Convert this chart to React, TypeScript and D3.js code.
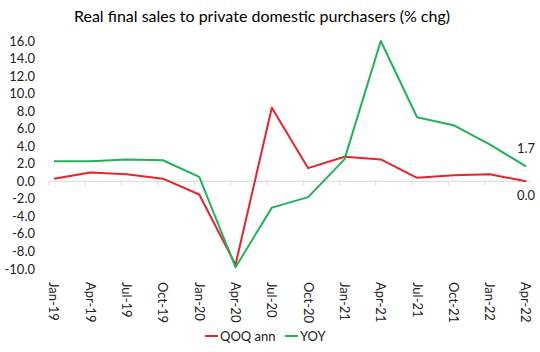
import React from 'react';
import * as d3 from 'd3';

const categories = ['Jan-19', 'Apr-19', 'Jul-19', 'Oct-19', 'Jan-20', 'Apr-20', 'Jul-20', 'Oct-20', 'Jan-21', 'Apr-21', 'Jul-21', 'Oct-21', 'Jan-22', 'Apr-22'];
const qoqAnn = [0.3, 1.0, 0.8, 0.3, -1.5, -9.5, 8.4, 1.5, 2.8, 2.5, 0.4, 0.7, 0.8, 0.0];
const yoy = [2.3, 2.3, 2.5, 2.4, 0.5, -9.8, -3.0, -1.8, 2.5, 16.0, 7.3, 6.4, 4.2, 1.7];
const yTicks = [16, 14, 12, 10, 8, 6, 4, 2, 0, -2, -4, -6, -8, -10];

const width = 540;
const height = 352;
const font = 'Lato, "Open Sans", sans-serif';

const App = () => {
    const x = d3.scalePoint<string>()
        .domain(categories)
        .range([54, 526]);

    const y = d3.scaleLinear()
        .domain([-10, 16])
        .range([269, 41]);

    const line = d3.line<number>()
        .x((_, i) => x(categories[i]) as number)
        .y(d => y(d));

    const series = [
        { name: 'QOQ ann', values: qoqAnn, color: '#e8232a' },
        { name: 'YOY', values: yoy, color: '#20b25a' },
    ];

    const last = categories.length - 1;

    return (
        <svg width={width} height={height} style={{ position: 'absolute', left: 0, top: 0, background: '#fff' }}>
            <text x={262} y={22} textAnchor="middle" fontFamily={font} fontSize={16} fill="#000">
                Real final sales to private domestic purchasers (% chg)
            </text>

            {/* zero line + category ticks */}
            <line x1={48} x2={531} y1={y(0)} y2={y(0)} stroke="#d9d9d9" strokeWidth={1} />
            {categories.map(c => (
                <line key={c} x1={(x(c) as number) - 5} x2={(x(c) as number) - 5} y1={y(0)} y2={y(0) + 4} stroke="#d9d9d9" />
            ))}

            {yTicks.map(t => (
                <text key={t} x={35} y={y(t)} dy="0.35em" textAnchor="end" fontFamily={font} fontSize={13} fill="#222">
                    {t.toFixed(1)}
                </text>
            ))}

            {categories.map(c => (
                <text key={c} transform={`translate(${x(c)},282) rotate(90)`} dy="0.35em" fontFamily={font} fontSize={13} fill="#222">
                    {c}
                </text>
            ))}

            {series.map(s => (
                <path key={s.name} d={line(s.values) ?? ''} fill="none" stroke={s.color} strokeWidth={2} strokeLinejoin="round" />
            ))}

            <text x={x(categories[last])} y={y(yoy[last]) - 13} textAnchor="middle" fontFamily={font} fontSize={13} fill="#222">
                {yoy[last].toFixed(1)}
            </text>
            <text x={x(categories[last])} y={y(qoqAnn[last]) + 19} textAnchor="middle" fontFamily={font} fontSize={13} fill="#222">
                {qoqAnn[last].toFixed(1)}
            </text>

            {/* legend */}
            <g transform="translate(205,336)">
                <line x1={0} x2={13} y1={0} y2={0} stroke={series[0].color} strokeWidth={2} />
                <text x={15} y={0} dy="0.35em" fontFamily={font} fontSize={13} fill="#222">{series[0].name}</text>
                <line x1={80} x2={93} y1={0} y2={0} stroke={series[1].color} strokeWidth={2} />
                <text x={95} y={0} dy="0.35em" fontFamily={font} fontSize={13} fill="#222">{series[1].name}</text>
            </g>
        </svg>
    );
};

export default App;
